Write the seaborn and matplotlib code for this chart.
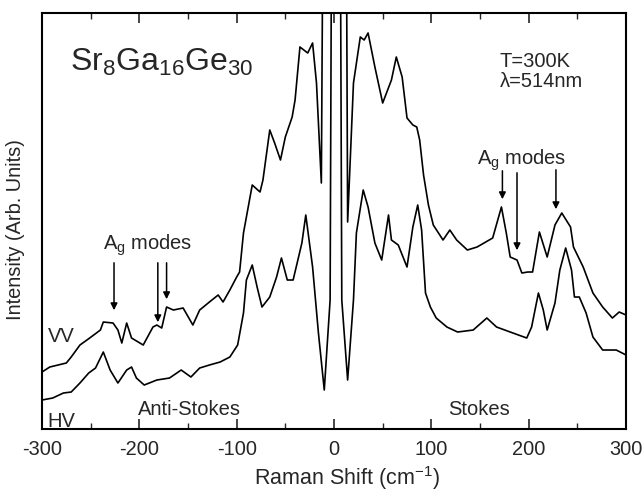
import matplotlib
matplotlib.use("Agg")
import matplotlib.pyplot as plt
from matplotlib.ticker import MultipleLocator
import pandas as pd
import seaborn as sns

# VV spectrum (upper trace), intensity in arbitrary units
vv_shift = [-300, -292, -275, -270, -261, -251, -240, -237, -227, -222, -218, -213,
            -208, -196, -186, -182, -177, -172, -165, -155, -145, -138, -128, -119,
            -114, -107, -100, -97, -93, -84, -76, -73, -66, -61, -55, -50, -43, -40,
            -35, -27, -22, -18, -13, -9, 0, 11, 14, 20, 27, 31, 35, 42, 50, 59, 64,
            70, 75, 81, 85, 88, 92, 97, 102, 112, 119, 126, 137, 147, 163, 172, 177,
            181, 188, 193, 199, 204, 211, 219, 227, 234, 243, 246, 256, 266, 276,
            286, 293, 300]
vv_int = [57, 62, 66, 72, 84, 91, 99, 107, 106, 99, 86, 106,
          91, 84, 102, 104, 101, 122, 119, 121, 104, 119, 127, 134,
          127, 139, 152, 157, 196, 244, 237, 249, 299, 286, 269, 292, 312, 329,
          382, 376, 386, 346, 246, 900, 900, 900, 207, 346, 392, 389, 396, 362, 326, 349, 372,
          352, 311, 304, 302, 289, 254, 224, 204, 189, 199, 189, 179, 182, 191, 222, 196,
          172, 169, 156, 157, 157, 197, 172, 204, 216, 202, 182, 162, 136, 122,
          111, 117, 114]

# HV spectrum (lower trace)
hv_shift = [-300, -289, -278, -270, -261, -252, -245, -237, -230, -222, -213, -208,
            -203, -195, -182, -169, -157, -147, -138, -128, -117, -107, -99, -93,
            -90, -84, -79, -74, -66, -59, -54, -48, -42, -33, -29, -22, -16, -10,
            -4, -1, 2, 5, 8, 14, 20, 23, 30, 35, 42, 49, 56, 59, 66, 75, 81, 86, 90,
            94, 99, 105, 116, 127, 143, 157, 167, 181, 198, 203, 210, 215, 219, 227,
            232, 238, 244, 247, 252, 259, 266, 276, 290, 300]
hv_int = [29, 31, 36, 37, 46, 56, 61, 77, 59, 46, 59, 62,
          51, 44, 49, 51, 59, 52, 61, 64, 67, 72, 84, 116,
          149, 164, 142, 122, 132, 152, 171, 149, 149, 186, 214, 162, 96, 39,
          129, 900, 900, 900, 129, 49, 129, 196, 239, 222, 186, 169, 214, 189, 184, 162, 202, 224, 199,
          136, 122, 111, 102, 97, 99, 111, 102, 97, 91, 102, 136, 119, 99, 126,
          159, 181, 159, 132, 132, 116, 92, 79, 79, 74]

# A_g mode arrows: (shift, arrow tail, arrow head)
ag_left = [(-226, 169, 116), (-181, 169, 104), (-172, 169, 127)]
ag_right = [(173, 261, 227), (188, 259, 176), (228, 262, 217)]

sns.set_style("ticks", {"xtick.direction": "in", "ytick.direction": "in"})
plt.rcParams["font.family"] = ["Liberation Sans", "DejaVu Sans"]
plt.rcParams["mathtext.fontset"] = "custom"
plt.rcParams["mathtext.rm"] = "Liberation Sans"
plt.rcParams["mathtext.it"] = "Liberation Sans"
plt.rcParams["axes.unicode_minus"] = False

fig = plt.figure(figsize=(6.43, 4.92), dpi=100)
ax = fig.add_axes([0.0653, 0.128, 0.9083, 0.8456])

vv = pd.DataFrame({"shift": vv_shift, "intensity": vv_int})
hv = pd.DataFrame({"shift": hv_shift, "intensity": hv_int})
sns.lineplot(data=vv, x="shift", y="intensity", color="black", lw=1.2, ax=ax)
sns.lineplot(data=hv, x="shift", y="intensity", color="black", lw=1.2, ax=ax)

ax.set_xlim(-300, 300)
ax.set_ylim(0, 416)
ax.set_yticks([])
ax.xaxis.set_major_locator(MultipleLocator(100))
ax.xaxis.set_minor_locator(MultipleLocator(50))
ax.tick_params(axis="x", which="major", length=7, width=1.2, top=True, labelsize=14.4, pad=8)
ax.tick_params(axis="x", which="minor", length=4, width=1, top=True)
for s in ax.spines.values():
    s.set_linewidth(1.5)
    s.set_color("black")

ax.set_xlabel("Raman Shift (cm$^{-1}$)", fontsize=15.5)
ax.set_ylabel("Intensity (Arb. Units)", fontsize=14.4)
ax.xaxis.set_label_coords(0.522, -0.084)
ax.yaxis.set_label_coords(-0.029, 0.48)

ax.text(-271, 358, r"Sr$_8$Ga$_{16}$Ge$_{30}$", fontsize=23)
ax.text(170, 362, "T=300K", fontsize=14.5)
ax.text(170, 342, "λ=514nm", fontsize=14.5)
ax.text(-237, 179, r"A$_g$ modes", fontsize=14.5)
ax.text(147, 264, r"A$_g$ modes", fontsize=14.5)
ax.text(-294, 87, "VV", fontsize=14.5)
ax.text(-294, 2, "HV", fontsize=14.5)
ax.text(-201, 14, "Anti-Stokes", fontsize=14.5)
ax.text(117, 14, "Stokes", fontsize=14.5)

for x, y0, y1 in ag_left + ag_right:
    ax.annotate("", xy=(x, y1), xytext=(x, y0),
                arrowprops=dict(arrowstyle="-|>", color="black", lw=1.1,
                                mutation_scale=10))

fig.savefig("out.png", dpi=100)
